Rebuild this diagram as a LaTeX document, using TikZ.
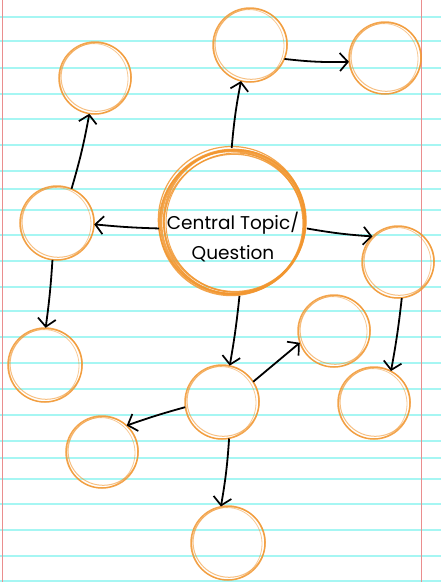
\documentclass[tikz,border=0pt]{standalone}
\usepackage{fontspec}
\setmainfont{Poppins}
\usetikzlibrary{arrows.meta}

\definecolor{brush}{HTML}{F2962F}
\definecolor{rule}{HTML}{A6F6F3}
\definecolor{margin}{HTML}{EA8E8E}

\tikzset{
  bubble/.style={circle, inner sep=0pt, minimum size=#1},
  pen/.style={brush, line width=1.5pt, opacity=.85},
  thought/.style={line width=1.8pt, -{Straight Barb[length=8pt,width=18pt,line width=1.7pt]}},
}

% x, y, radius of one hand drawn ring
\newcommand{\brushring}[3]{%
  \draw[pen] (#1,#2) circle[radius=#3];
  \draw[pen, line width=1pt, opacity=.6] (#1+1.2,#2-.9) circle[x radius=#3-.9, y radius=#3-1.8];
  \draw[pen, line width=.8pt, opacity=.5] (#1-1,#2+.8) circle[x radius=#3-2, y radius=#3-.8];
}

\begin{document}
\begin{tikzpicture}[x=1pt,y=-1pt]
\useasboundingbox (0,0) rectangle (441,582);
\fill[white] (0,0) rectangle (441,582);

% ruled paper
\foreach \y in {17,41,68,94,119,145,171,189,210,235,261,287,311,337,363,389,415,441,458,479,504,530,556,581}
  \draw[rule, line width=1.3pt] (0,\y) -- (441,\y);
\draw[margin, line width=.9pt] (2,0) -- (2,582);
\draw[margin, line width=.9pt] (421,0) -- (421,582);

% the ideas
\foreach \n/\x/\y/\r in {n1/95/78/36, n2/250/45/37, n3/385/58/36, n5/57/223/37,
    n6/398/262/36, n7/45/365/37, n8/334/331/36, n9/374/403/36, n10/222/402/37,
    n11/102/452/36, n12/228/543/37} {
  \node[bubble=2*\r] (\n) at (\x,\y) {};
  \brushring{\x}{\y}{\r}
}

% the central topic
\node[bubble=148] (hub) at (233,222) {};
\foreach \dx/\dy/\rr/\w in {0/0/72/2.6, 1.8/-1.2/71/1.8, -1.8/1.4/72/1.6, 1/2.2/70/1.3, -1.2/-2/73.5/1.2, 2.5/.6/69.5/1}
  \draw[pen, line width=\w pt] (233+\dx,222+\dy) circle[radius=\rr];
\node[align=center, font=\fontsize{18.5}{30}\selectfont] (question) at (233,237) {Central Topic/\\Question};

% connectors
\draw[thought] (hub.91) to[bend left=3] (n2.256);
\draw[thought] (n2.338) to[bend right=4] (n3.186);
\draw[thought] (hub.185) to[bend left=2] (n5.358);
\draw[thought] (n5.67) to[bend right=3] (n1.261);
\draw[thought] (n5.263) to[bend left=2] (n7.89);
\draw[thought] (hub.355) to[bend right=3] (n6.135);
\draw[thought] (n6.276) to[bend left=2] (n9.62);
\draw[thought] (hub.275) to[bend left=2] (n10.78);
\draw[thought] (n10.33) to (n8.199);
\draw[thought] (n10.188) to[bend right=2] (n11.47);
\draw[thought] (n10.281) to[bend left=3] (n12.101);
\end{tikzpicture}
\end{document}
